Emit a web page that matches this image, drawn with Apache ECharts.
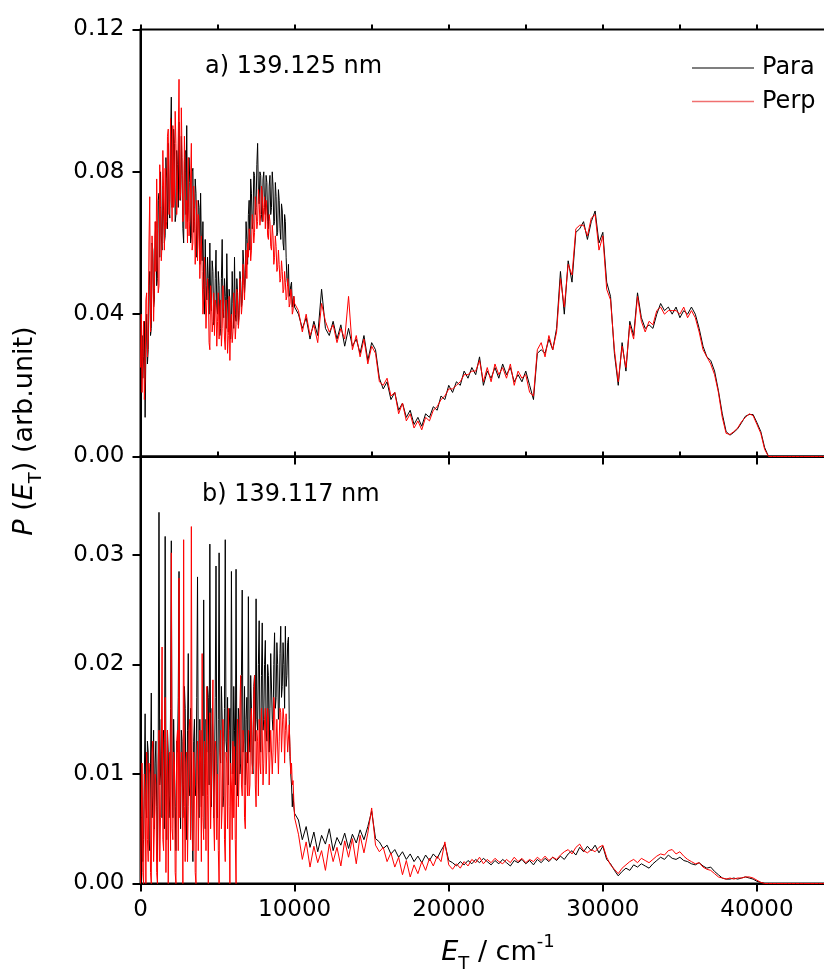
<!DOCTYPE html>
<html>
<head>
<meta charset="utf-8">
<script src="https://cdn.jsdelivr.net/npm/echarts@6/dist/echarts.min.js"></script>
<style>
  html, body { margin: 0; padding: 0; background: #fff; }
  #chart { width: 824px; height: 978px; }
</style>
</head>
<body>
<div id="chart"></div>
<script>
// sampling of the traces: 50 cm-1 steps up to 10000, then 250 cm-1 steps up to 45000
const lowStep = 50, lowEnd = 10000, highStep = 250, highEnd = 45000;

const legendNames = ['Para', 'Perp'];
const panelLabels = ['a) 139.125 nm', 'b) 139.117 nm'];

// panel a) 139.125 nm
const paraA = [
  0.020, 0.012, 0.034, 0.022, 0.028, 0.038, 0.011, 0.030, 0.040, 0.026, 0.030, 0.048, 0.052, 0.034, 0.036, 0.060, 0.058, 0.042, 0.044, 0.062, // 0
  0.066, 0.048, 0.050, 0.072, 0.074, 0.056, 0.080, 0.062, 0.058, 0.076, 0.069, 0.060, 0.062, 0.084, 0.078, 0.064, 0.088, 0.070, 0.067, 0.090, // 1000
  0.101, 0.070, 0.074, 0.092, 0.088, 0.066, 0.068, 0.086, 0.082, 0.070, 0.094, 0.075, 0.072, 0.090, 0.079, 0.064, 0.060, 0.083, 0.086, 0.068, // 2000
  0.093, 0.066, 0.070, 0.084, 0.077, 0.060, 0.062, 0.080, 0.081, 0.063, 0.066, 0.078, 0.074, 0.056, 0.058, 0.072, 0.070, 0.054, 0.074, 0.060, // 3000
  0.055, 0.066, 0.047, 0.040, 0.061, 0.048, 0.044, 0.056, 0.050, 0.040, 0.060, 0.044, 0.041, 0.055, 0.052, 0.037, 0.038, 0.050, 0.058, 0.042, // 4000
  0.040, 0.052, 0.048, 0.034, 0.036, 0.050, 0.061, 0.042, 0.039, 0.050, 0.045, 0.036, 0.057, 0.044, 0.035, 0.047, 0.044, 0.033, 0.037, 0.052, // 5000
  0.043, 0.036, 0.056, 0.040, 0.038, 0.050, 0.046, 0.037, 0.041, 0.052, 0.049, 0.042, 0.044, 0.058, 0.054, 0.046, 0.050, 0.066, 0.061, 0.054, // 6000
  0.068, 0.072, 0.058, 0.078, 0.074, 0.064, 0.066, 0.080, 0.079, 0.068, 0.070, 0.082, 0.088, 0.074, 0.071, 0.080, 0.079, 0.068, 0.066, 0.078, // 7000
  0.080, 0.070, 0.068, 0.079, 0.077, 0.066, 0.064, 0.076, 0.079, 0.068, 0.070, 0.080, 0.076, 0.065, 0.066, 0.077, 0.073, 0.062, 0.063, 0.075, // 8000
  0.072, 0.064, 0.061, 0.071, 0.069, 0.060, 0.058, 0.068, 0.066, 0.056, 0.050, 0.048, 0.054, 0.045, 0.046, 0.048, 0.049, 0.042, 0.044, 0.045, // 9000
  0.042,                          // 10000
  0.040, 0.036, 0.039, 0.033,     // -> 11k
  0.038, 0.034, 0.047, 0.036,     // -> 12k
  0.034, 0.038, 0.033, 0.037,     // -> 13k
  0.031, 0.036, 0.031, 0.033,     // -> 14k
  0.029, 0.034, 0.027, 0.032,     // -> 15k
  0.030, 0.022, 0.019, 0.021,     // -> 16k
  0.016, 0.018, 0.013, 0.015,     // -> 17k
  0.011, 0.013, 0.009, 0.011,     // -> 18k
  0.0085, 0.012, 0.011, 0.014,    // -> 19k
  0.013, 0.017, 0.016, 0.020,     // -> 20k
  0.018, 0.021, 0.020, 0.024,     // -> 21k
  0.022, 0.025, 0.023, 0.028,     // -> 22k
  0.020, 0.024, 0.022, 0.025,     // -> 23k
  0.022, 0.026, 0.023, 0.025,     // -> 24k
  0.021, 0.023, 0.021, 0.024,     // -> 25k
  0.020, 0.016, 0.029, 0.030,     // -> 26k
  0.029, 0.033, 0.030, 0.036,     // -> 27k
  0.052, 0.040, 0.055, 0.049,     // -> 28k
  0.063, 0.064, 0.066, 0.061,     // -> 29k
  0.066, 0.069, 0.060, 0.063,     // -> 30k
  0.049, 0.045, 0.029, 0.020,     // -> 31k
  0.032, 0.024, 0.038, 0.034,     // -> 32k
  0.046, 0.039, 0.036, 0.037,     // -> 33k
  0.036, 0.040, 0.043, 0.041,     // -> 34k
  0.042, 0.040, 0.042, 0.039,     // -> 35k
  0.041, 0.040, 0.042, 0.040,     // -> 36k
  0.036, 0.031, 0.028, 0.027,     // -> 37k
  0.024, 0.0185, 0.012, 0.007,    // -> 38k
  0.006, 0.0068, 0.0078, 0.0095,  // -> 39k
  0.0113, 0.0118, 0.0118, 0.0095, // -> 40k
  0.007, 0.0025, 0, 0,            // -> 41k
  0, 0, 0, 0,                     // -> 42k
  0, 0, 0, 0,                     // -> 43k
  0, 0, 0, 0,                     // -> 44k
  0, 0, 0, 0                      // -> 45k
];

const perpA = [
  0.025, 0.040, 0.018, 0.030, 0.038, 0.016, 0.022, 0.044, 0.046, 0.028, 0.033, 0.060, 0.073, 0.035, 0.040, 0.062, 0.055, 0.038, 0.047, 0.066, // 0
  0.052, 0.078, 0.064, 0.046, 0.048, 0.082, 0.070, 0.055, 0.060, 0.086, 0.075, 0.058, 0.081, 0.064, 0.066, 0.090, 0.092, 0.068, 0.072, 0.095, // 1000
  0.080, 0.066, 0.093, 0.070, 0.072, 0.097, 0.088, 0.068, 0.076, 0.090, 0.106, 0.072, 0.074, 0.098, 0.084, 0.066, 0.068, 0.090, 0.080, 0.064, // 2000
  0.072, 0.060, 0.084, 0.062, 0.066, 0.078, 0.088, 0.058, 0.060, 0.076, 0.070, 0.054, 0.064, 0.072, 0.055, 0.068, 0.066, 0.050, 0.058, 0.062, // 3000
  0.052, 0.040, 0.044, 0.056, 0.048, 0.036, 0.036, 0.050, 0.046, 0.032, 0.030, 0.048, 0.044, 0.035, 0.038, 0.046, 0.034, 0.044, 0.042, 0.031, // 4000
  0.038, 0.046, 0.033, 0.042, 0.044, 0.031, 0.036, 0.048, 0.041, 0.033, 0.030, 0.044, 0.039, 0.029, 0.034, 0.045, 0.027, 0.038, 0.040, 0.032, // 5000
  0.035, 0.046, 0.041, 0.033, 0.037, 0.047, 0.043, 0.036, 0.039, 0.050, 0.046, 0.040, 0.043, 0.054, 0.048, 0.044, 0.052, 0.058, 0.050, 0.060, // 6000
  0.056, 0.064, 0.062, 0.055, 0.058, 0.068, 0.066, 0.060, 0.063, 0.073, 0.070, 0.064, 0.066, 0.075, 0.072, 0.065, 0.068, 0.076, 0.074, 0.066, // 7000
  0.070, 0.073, 0.064, 0.072, 0.069, 0.062, 0.061, 0.068, 0.066, 0.059, 0.058, 0.065, 0.062, 0.054, 0.056, 0.062, 0.059, 0.052, 0.053, 0.058, // 8000
  0.054, 0.049, 0.050, 0.055, 0.052, 0.046, 0.047, 0.052, 0.049, 0.044, 0.045, 0.050, 0.048, 0.042, 0.043, 0.047, 0.046, 0.040, 0.041, 0.045, // 9000
  0.043,                          // 10000
  0.041, 0.035, 0.040, 0.034,     // -> 11k
  0.037, 0.032, 0.043, 0.038,     // -> 12k
  0.035, 0.037, 0.032, 0.036,     // -> 13k
  0.033, 0.045, 0.030, 0.034,     // -> 14k
  0.028, 0.033, 0.026, 0.031,     // -> 15k
  0.029, 0.021, 0.020, 0.022,     // -> 16k
  0.017, 0.018, 0.012, 0.015,     // -> 17k
  0.010, 0.012, 0.008, 0.010,     // -> 18k
  0.0075, 0.011, 0.010, 0.013,    // -> 19k
  0.014, 0.016, 0.017, 0.019,     // -> 20k
  0.019, 0.020, 0.021, 0.023,     // -> 21k
  0.023, 0.024, 0.024, 0.027,     // -> 22k
  0.021, 0.025, 0.021, 0.026,     // -> 23k
  0.023, 0.025, 0.022, 0.026,     // -> 24k
  0.020, 0.024, 0.022, 0.023,     // -> 25k
  0.018, 0.017, 0.030, 0.032,     // -> 26k
  0.028, 0.034, 0.030, 0.035,     // -> 27k
  0.050, 0.042, 0.054, 0.051,     // -> 28k
  0.064, 0.065, 0.065, 0.062,     // -> 29k
  0.067, 0.068, 0.058, 0.062,     // -> 30k
  0.047, 0.044, 0.030, 0.021,     // -> 31k
  0.031, 0.025, 0.037, 0.033,     // -> 32k
  0.045, 0.038, 0.035, 0.038,     // -> 33k
  0.037, 0.041, 0.042, 0.040,     // -> 34k
  0.041, 0.041, 0.041, 0.040,     // -> 35k
  0.042, 0.039, 0.041, 0.039,     // -> 36k
  0.035, 0.030, 0.028, 0.026,     // -> 37k
  0.023, 0.018, 0.011, 0.0065,    // -> 38k
  0.0062, 0.007, 0.008, 0.0098,   // -> 39k
  0.011, 0.012, 0.0115, 0.009,    // -> 40k
  0.0065, 0.002, 0, 0,            // -> 41k
  0, 0, 0, 0,                     // -> 42k
  0, 0, 0, 0,                     // -> 43k
  0, 0, 0, 0,                     // -> 44k
  0, 0, 0, 0                      // -> 45k
];

// panel b) 139.117 nm
const paraB = [
  0.000, 0.012, 0.009, 0.002, 0.004, 0.010, 0.0155, 0.007, 0.006, 0.013, 0.012, 0.004, 0.003, 0.011, 0.0174, 0.006, 0.008, 0.014, 0.005, 0.011, // 0
  0.013, 0.007, 0.002, 0.012, 0.0339, 0.009, 0.010, 0.015, 0.006, 0.013, 0.014, 0.005, 0.0317, 0.011, 0.004, 0.014, 0.012, 0.006, 0.008, 0.016, // 1000
  0.0313, 0.010, 0.006, 0.015, 0.015, 0.007, 0.003, 0.013, 0.012, 0.017, 0.0285, 0.010, 0.005, 0.014, 0.013, 0.006, 0.009, 0.018, 0.016, 0.008, // 2000
  0.004, 0.014, 0.021, 0.009, 0.008, 0.016, 0.012, 0.005, 0.002, 0.013, 0.015, 0.008, 0.009, 0.017, 0.0280, 0.010, 0.006, 0.015, 0.011, 0.007, // 3000
  0.014, 0.008, 0.0259, 0.011, 0.005, 0.015, 0.012, 0.018, 0.017, 0.009, 0.0310, 0.012, 0.007, 0.016, 0.013, 0.006, 0.010, 0.017, 0.029, 0.011, // 4000
  0.006, 0.015, 0.0302, 0.012, 0.011, 0.018, 0.015, 0.007, 0.008, 0.016, 0.0314, 0.013, 0.012, 0.017, 0.009, 0.014, 0.016, 0.010, 0.0285, 0.013, // 5000
  0.010, 0.018, 0.014, 0.009, 0.0287, 0.012, 0.008, 0.016, 0.015, 0.010, 0.011, 0.019, 0.0268, 0.012, 0.013, 0.018, 0.009, 0.015, 0.017, 0.011, // 6000
  0.0262, 0.014, 0.012, 0.019, 0.016, 0.011, 0.010, 0.018, 0.019, 0.013, 0.0260, 0.015, 0.014, 0.020, 0.0240, 0.013, 0.012, 0.019, 0.0238, 0.014, // 7000
  0.015, 0.020, 0.0222, 0.014, 0.013, 0.020, 0.019, 0.012, 0.016, 0.021, 0.021, 0.015, 0.014, 0.020, 0.0229, 0.016, 0.017, 0.022, 0.020, 0.015, // 8000
  0.016, 0.021, 0.0235, 0.017, 0.018, 0.022, 0.020, 0.016, 0.0235, 0.018, 0.019, 0.022, 0.0225, 0.015, 0.0116, 0.010, 0.009, 0.007, 0.0082, 0.0070, // 9000
  0.0064,                             // 10000
  0.0058, 0.0040, 0.0052, 0.0033,     // -> 11k
  0.0047, 0.0029, 0.0044, 0.0036,     // -> 12k
  0.0050, 0.0030, 0.0042, 0.0035,     // -> 13k
  0.0046, 0.0032, 0.0045, 0.0037,     // -> 14k
  0.0049, 0.0040, 0.0052, 0.0066,     // -> 15k
  0.0041, 0.0038, 0.0032, 0.0035,     // -> 16k
  0.0027, 0.0031, 0.0024, 0.0029,     // -> 17k
  0.0022, 0.0027, 0.0020, 0.0025,     // -> 18k
  0.0019, 0.0026, 0.0021, 0.0027,     // -> 19k
  0.0023, 0.0030, 0.0036, 0.0021,     // -> 20k
  0.0019, 0.0016, 0.0020, 0.0017,     // -> 21k
  0.0021, 0.0018, 0.0022, 0.0019,     // -> 22k
  0.0023, 0.0020, 0.0017, 0.0021,     // -> 23k
  0.0018, 0.0022, 0.0019, 0.0016,     // -> 24k
  0.0021, 0.0019, 0.0022, 0.0018,     // -> 25k
  0.0021, 0.0017, 0.0022, 0.0019,     // -> 26k
  0.0023, 0.0020, 0.0024, 0.0021,     // -> 27k
  0.0025, 0.0022, 0.0027, 0.0030,     // -> 28k
  0.0026, 0.0033, 0.0029, 0.0034,     // -> 29k
  0.0030, 0.0035, 0.0028, 0.0034,     // -> 30k
  0.0022, 0.0018, 0.0012, 0.0007,     // -> 31k
  0.0011, 0.0014, 0.0012, 0.0017,     // -> 32k
  0.0015, 0.0018, 0.0016, 0.0014,     // -> 33k
  0.0018, 0.0021, 0.0024, 0.0022,     // -> 34k
  0.0026, 0.0023, 0.0022, 0.0024,     // -> 35k
  0.0021, 0.0020, 0.0018, 0.0017,     // -> 36k
  0.0019, 0.0016, 0.0014, 0.0015,     // -> 37k
  0.0011, 0.0008, 0.0005, 0.0004,     // -> 38k
  0.0004, 0.0005, 0.0004, 0.0005,     // -> 39k
  0.0006, 0.0005, 0.0004, 0.0002,     // -> 40k
  0.0001, 0, 0, 0,                    // -> 41k
  0, 0, 0, 0,                         // -> 42k
  0, 0, 0, 0,                         // -> 43k
  0, 0, 0, 0,                         // -> 44k
  0, 0, 0, 0                          // -> 45k
];

const perpB = [
  0.000, 0.006, 0.011, 0.001, 0.000, 0.010, 0.008, 0.000, 0.012, 0.004, 0.002, 0.011, 0.010, 0.001, 0.000, 0.012, 0.013, 0.002, 0.005, 0.010, // 0
  0.009, 0.001, 0.000, 0.011, 0.014, 0.002, 0.006, 0.012, 0.0216, 0.004, 0.003, 0.013, 0.017, 0.001, 0.008, 0.014, 0.000, 0.010, 0.012, 0.003, // 1000
  0.0302, 0.005, 0.004, 0.012, 0.011, 0.001, 0.000, 0.013, 0.014, 0.003, 0.0279, 0.006, 0.006, 0.012, 0.010, 0.000, 0.0314, 0.007, 0.002, 0.011, // 2000
  0.012, 0.002, 0.007, 0.014, 0.015, 0.004, 0.0326, 0.008, 0.003, 0.012, 0.010, 0.001, 0.000, 0.011, 0.013, 0.003, 0.008, 0.014, 0.011, 0.002, // 3000
  0.021, 0.006, 0.004, 0.013, 0.012, 0.003, 0.018, 0.008, 0.000, 0.012, 0.0156, 0.005, 0.009, 0.014, 0.0186, 0.006, 0.003, 0.013, 0.012, 0.004, // 4000
  0.010, 0.003, 0.000, 0.012, 0.014, 0.005, 0.007, 0.015, 0.013, 0.004, 0.002, 0.012, 0.011, 0.005, 0.016, 0.007, 0.000, 0.011, 0.009, 0.004, // 5000
  0.013, 0.006, 0.0125, 0.004, 0.000, 0.012, 0.015, 0.007, 0.010, 0.016, 0.019, 0.009, 0.008, 0.014, 0.013, 0.006, 0.005, 0.012, 0.012, 0.008, // 6000
  0.014, 0.008, 0.009, 0.015, 0.016, 0.010, 0.011, 0.017, 0.019, 0.009, 0.007, 0.014, 0.013, 0.008, 0.015, 0.011, 0.010, 0.016, 0.014, 0.009, // 7000
  0.011, 0.015, 0.016, 0.010, 0.012, 0.016, 0.015, 0.009, 0.009, 0.014, 0.014, 0.010, 0.012, 0.017, 0.016, 0.011, 0.011, 0.015, 0.015, 0.010, // 8000
  0.013, 0.016, 0.0156, 0.012, 0.012, 0.016, 0.015, 0.011, 0.014, 0.0155, 0.0156, 0.012, 0.012, 0.0145, 0.0125, 0.010, 0.011, 0.009, 0.0094, 0.0075, // 9000
  0.006,                              // 10000
  0.0045, 0.0022, 0.0038, 0.0015,     // -> 11k
  0.0034, 0.0019, 0.0030, 0.0012,     // -> 12k
  0.0036, 0.0020, 0.0033, 0.0016,     // -> 13k
  0.0039, 0.0024, 0.0041, 0.0018,     // -> 14k
  0.0044, 0.0028, 0.0046, 0.0069,     // -> 15k
  0.0035, 0.0029, 0.0033, 0.0020,     // -> 16k
  0.0028, 0.0015, 0.0024, 0.0008,     // -> 17k
  0.0021, 0.0006, 0.0017, 0.0009,     // -> 18k
  0.0020, 0.0012, 0.0023, 0.0016,     // -> 19k
  0.0025, 0.0020, 0.0038, 0.0017,     // -> 20k
  0.0013, 0.0018, 0.0014, 0.0020,     // -> 21k
  0.0016, 0.0022, 0.0019, 0.0024,     // -> 22k
  0.0018, 0.0022, 0.0019, 0.0023,     // -> 23k
  0.0020, 0.0018, 0.0022, 0.0019,     // -> 24k
  0.0024, 0.0020, 0.0023, 0.0019,     // -> 25k
  0.0022, 0.0020, 0.0024, 0.0021,     // -> 26k
  0.0025, 0.0021, 0.0024, 0.0022,     // -> 27k
  0.0026, 0.0029, 0.0031, 0.0027,     // -> 28k
  0.0033, 0.0036, 0.0030, 0.0028,     // -> 29k
  0.0031, 0.0029, 0.0033, 0.0035,     // -> 30k
  0.0024, 0.0017, 0.0013, 0.0009,     // -> 31k
  0.0014, 0.0017, 0.0020, 0.0022,     // -> 32k
  0.0019, 0.0023, 0.0021, 0.0019,     // -> 33k
  0.0022, 0.0025, 0.0027, 0.0026,     // -> 34k
  0.0030, 0.0031, 0.0027, 0.0029,     // -> 35k
  0.0025, 0.0022, 0.0020, 0.0018,     // -> 36k
  0.0019, 0.0015, 0.0013, 0.0012,     // -> 37k
  0.0009, 0.0006, 0.0005, 0.0004,     // -> 38k
  0.0005, 0.0004, 0.0005, 0.0005,     // -> 39k
  0.0006, 0.0006, 0.0005, 0.0003,     // -> 40k
  0.0001, 0, 0, 0,                    // -> 41k
  0, 0, 0, 0,                         // -> 42k
  0, 0, 0, 0,                         // -> 43k
  0, 0, 0, 0,                         // -> 44k
  0, 0, 0, 0                          // -> 45k
];

const energy = [];
for (let e = 0; e <= lowEnd; e += lowStep) energy.push(e);
for (let e = lowEnd + highStep; e <= highEnd; e += highStep) energy.push(e);

function pair(values) {
  return values.map((v, i) => [energy[i], v]);
}

const FONT = '"DejaVu Sans", sans-serif';
const AXIS_W = 2;

// plot frame (px); the x axis runs on past the right edge of the page
const plotLeft = 140.5, plotWidth = 693.5;
const topA = 29.5, panelH = 427;
const topB = topA + panelH;

function xAxisCfg(grid, interval, major, labels) {
  return {
    gridIndex: grid, type: 'value', min: 0, max: 45000, interval: interval,
    axisLine: { show: major, onZero: false, lineStyle: { color: '#000', width: AXIS_W } },
    axisTick: { show: true, inside: false, length: major ? 8 : 5, lineStyle: { color: '#000', width: AXIS_W } },
    axisLabel: {
      show: labels, color: '#000', fontSize: 23, fontFamily: FONT, margin: 15,
      formatter: v => String(v),
      showMaxLabel: false
    },
    splitLine: { show: false }
  };
}

function yAxisCfg(grid, max, interval, major) {
  return {
    gridIndex: grid, type: 'value', min: 0, max: max, interval: interval,
    axisLine: { show: major, onZero: false, lineStyle: { color: '#000', width: AXIS_W } },
    axisTick: { show: true, inside: false, length: major ? 8 : 5, lineStyle: { color: '#000', width: AXIS_W } },
    axisLabel: {
      show: major, color: '#000', fontSize: 23, fontFamily: FONT, margin: 16,
      formatter: v => v.toFixed(2),
      showMaxLabel: grid === 0
    },
    splitLine: { show: false }
  };
}

function lineSeries(name, values, axis, color, z) {
  return {
    name: name, type: 'line', xAxisIndex: axis, yAxisIndex: axis,
    data: pair(values), symbol: 'none', showSymbol: false, z: z,
    lineStyle: { color: color, width: 1 }, itemStyle: { color: color },
    emphasis: { disabled: true }
  };
}

const rich = {
  n: { fontSize: 27, fontFamily: FONT, lineHeight: 40, fill: '#000' },
  i: { fontSize: 27, fontFamily: FONT, fontStyle: 'italic', lineHeight: 40, fill: '#000' },
  s: { fontSize: 18, fontFamily: FONT, lineHeight: 18, verticalAlign: 'bottom', fill: '#000' },
  p: { fontSize: 18, fontFamily: FONT, lineHeight: 18, verticalAlign: 'top', fill: '#000' }
};

const chart = echarts.init(document.getElementById('chart'));
chart.setOption({
  animation: false,
  backgroundColor: '#fff',
  grid: [
    { left: plotLeft, top: topA, width: plotWidth, height: panelH, show: true,
      borderColor: '#000', borderWidth: AXIS_W, backgroundColor: 'transparent', outerBoundsMode: 'none' },
    { left: plotLeft, top: topB, width: plotWidth, height: panelH, show: true,
      borderColor: '#000', borderWidth: AXIS_W, backgroundColor: 'transparent', outerBoundsMode: 'none' }
  ],
  xAxis: [
    xAxisCfg(0, 10000, true, false),
    xAxisCfg(0, 5000, false, false),
    xAxisCfg(1, 10000, true, true),
    xAxisCfg(1, 5000, false, false)
  ],
  yAxis: [
    yAxisCfg(0, 0.12, 0.04, true),
    yAxisCfg(0, 0.12, 0.02, false),
    yAxisCfg(1, 0.039, 0.01, true),
    yAxisCfg(1, 0.039, 0.005, false)
  ],
  legend: {
    data: [
      { name: legendNames[0], icon: 'rect', itemStyle: { color: '#555' } },
      { name: legendNames[1], icon: 'rect', itemStyle: { color: '#f07070' } }
    ],
    orient: 'vertical', left: 687, top: 51,
    itemWidth: 62, itemHeight: 1.5, itemGap: 9.5,
    textStyle: { fontSize: 24, fontFamily: FONT, color: '#000', lineHeight: 24, padding: [0, 0, 0, 3] }
  },
  series: [
    lineSeries('Para', paraA, 0, '#000', 2),
    lineSeries('Perp', perpA, 0, '#ff0000', 3),
    lineSeries('Para', paraB, 2, '#000', 2),
    lineSeries('Perp', perpB, 2, '#ff0000', 3)
  ],
  graphic: [
    { type: 'text', x: 205, y: 67, style: { text: panelLabels[0], fontSize: 24, fontFamily: FONT, fill: '#000', verticalAlign: 'middle' } },
    { type: 'text', x: 202, y: 495, style: { text: panelLabels[1], fontSize: 24, fontFamily: FONT, fill: '#000', verticalAlign: 'middle' } },
    { type: 'text', x: 25, y: 431, rotation: Math.PI / 2,
      style: { text: '{i|P}{n| (}{i|E}{s|T}{n|) (arb.unit)}', rich: rich, align: 'center', verticalAlign: 'middle' } },
    { type: 'text', x: 498, y: 953,
      style: { text: '{i|E}{s|T}{n| / cm}{p|-1}', rich: rich, align: 'center', verticalAlign: 'middle' } }
  ]
});
</script>
</body>
</html>
